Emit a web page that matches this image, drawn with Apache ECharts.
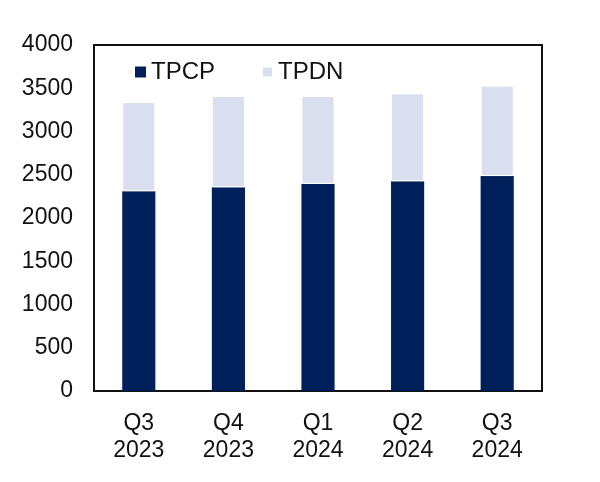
<!DOCTYPE html>
<html><head><meta charset="utf-8">
<script src="https://cdn.jsdelivr.net/npm/echarts@6/dist/echarts.min.js"></script>
<style>html,body{margin:0;padding:0;background:#fff}#c{width:600px;height:482px}</style>
</head><body><div id="c"></div>
<script>
const categories = ['Q3\n2023','Q4\n2023','Q1\n2024','Q2\n2024','Q3\n2024'];
const tpcp = [2310, 2355, 2395, 2425, 2485];
const tpdn = [1030, 1055, 1015, 1015, 1045];
const yTicks = {min:0, max:4000, interval:500};
const font = 'Liberation Sans, Arial, sans-serif';
const chart = echarts.init(document.getElementById('c'));
chart.setOption({
  animation:false,
  backgroundColor:'#fff',
  grid:{left:94,right:58,top:45,bottom:91,show:true,borderColor:'#111',borderWidth:2,containLabel:false},
  legend:{left:130,top:55,itemWidth:11,itemHeight:11,itemGap:46,icon:'rect',
    textStyle:{fontFamily:font,fontSize:24,color:'#111'},
    data:['TPCP','TPDN']},
  xAxis:{type:'category',data:categories,
    axisLine:{show:true,lineStyle:{color:'#111',width:2}},axisTick:{show:false},
    axisLabel:{fontFamily:font,fontSize:23,color:'#111',margin:19,lineHeight:27}},
  yAxis:{type:'value',min:yTicks.min,max:yTicks.max,interval:yTicks.interval,
    splitLine:{show:false},axisLine:{show:true,lineStyle:{color:'#111',width:2}},axisTick:{show:false},
    axisLabel:{fontFamily:font,fontSize:23,color:'#111',margin:21,formatter:v=>String(v)}},
  series:[
    {name:'TPCP',type:'bar',stack:'t',data:tpcp,barWidth:'37%',itemStyle:{color:'#00205c'}},
    {name:'TPDN',type:'bar',stack:'t',data:tpdn,barWidth:'37%',itemStyle:{color:'#d9dfef',borderColor:'#fff',borderWidth:1}}
  ]
});
</script></body></html>
